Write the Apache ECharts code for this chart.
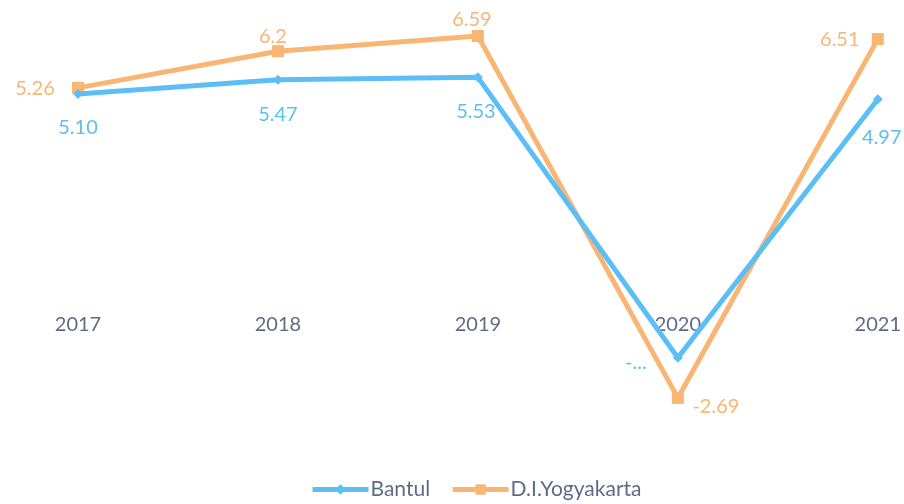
<!DOCTYPE html>
<html><head><meta charset="utf-8">
<script src="https://cdn.jsdelivr.net/npm/echarts@6/dist/echarts.min.js"></script>
<style>html,body{margin:0;padding:0;background:#fff}#c{width:904px;height:504px}</style>
</head><body><div id="c"></div>
<script>
const years = ['2017','2018','2019','2020','2021'];
const bantul = [5.10, 5.47, 5.53, -1.66, 4.97];
const diy = [5.26, 6.2, 6.59, -2.69, 6.51];
const bantulLabels = ['5.10','5.47','5.53','-...','4.97'];
const diyLabels = ['5.26','6.2','6.59','-2.69','6.51'];

const bantulOffsets = [[0,33],[0,35],[-2,34],[-42,5],[4,38]];
const diyOffsets = [[-43,1],[-5,-15],[-6,-16],[38,9],[-38,0]];

const font = 'Lato, "Open Sans", sans-serif';
const blue = '#5BBFF5';
const orange = '#F9B574';

function items(vals, labels, offs, color){
  return vals.map((v,i)=>({value:v, label:{show:true, position:'inside', offset:offs[i], formatter:labels[i], color:color, fontSize:20, fontFamily:font}}));
}

const chart = echarts.init(document.getElementById('c'));
chart.setOption({
  animation:false,
  grid:{left:78, right:26, top:20, height:390},
  xAxis:{type:'category', data:years, boundaryGap:false, offset:-117,
    axisLine:{show:false}, axisTick:{show:false}, splitLine:{show:false},
    axisLabel:{color:'#5F6B85', fontSize:20, fontFamily:font, margin:22}},
  yAxis:{type:'value', min:-3, max:7, show:false, splitLine:{show:false}},
  legend:{top:474, left:305, itemWidth:56, itemHeight:13, itemGap:20,
    lineStyle:{width:5},
    textStyle:{color:'#5F6B85', fontSize:21, fontFamily:font, padding:[0,0,0,-3]},
    data:['Bantul','D.I.Yogyakarta']},
  series:[
    {name:'Bantul', type:'line', data:items(bantul,bantulLabels,bantulOffsets,blue),
     symbol:'diamond', symbolSize:10, itemStyle:{color:blue}, lineStyle:{color:blue, width:5}, z:3},
    {name:'D.I.Yogyakarta', type:'line', data:items(diy,diyLabels,diyOffsets,orange),
     symbol:'rect', symbolSize:12, itemStyle:{color:orange}, lineStyle:{color:orange, width:5}, z:2}
  ]
});
</script></body></html>
